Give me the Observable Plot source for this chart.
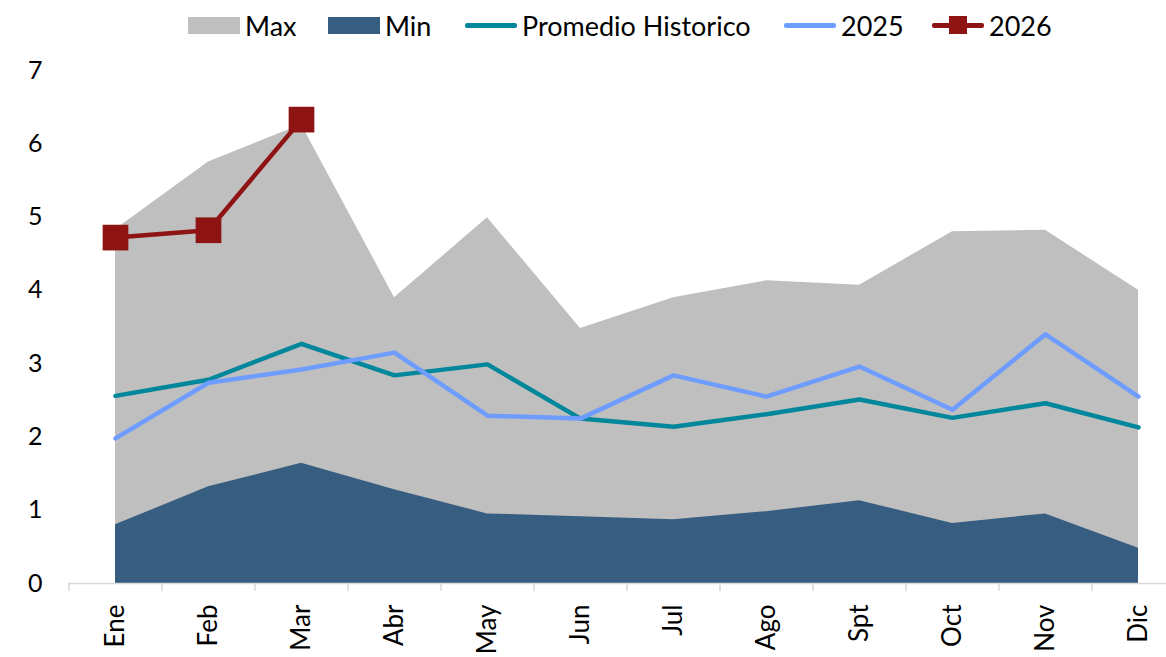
<!DOCTYPE html>
<html><head><meta charset="utf-8">
<script src="https://cdn.jsdelivr.net/npm/d3@7"></script>
<script src="https://cdn.jsdelivr.net/npm/@observablehq/plot@0.6"></script>
<style>
body{margin:0;background:#fff;font-family:Lato,"Open Sans",sans-serif;}
#legend{position:relative;height:50px;width:1166px;font-size:27px;color:#000;}
.it{position:absolute;top:0;height:50px;display:flex;align-items:center;}
.sw{width:52px;height:17px;margin-right:5px;flex:none;}
.ln{width:52px;height:5px;margin-right:5px;position:relative;border-radius:2px;flex:none;}
.sq{position:absolute;width:18px;height:18px;left:17px;top:-6.5px;}
svg{display:block;}
</style></head>
<body>
<div id="legend"></div>
<div id="chart"></div>
<script>
const months = ["Ene","Feb","Mar","Abr","May","Jun","Jul","Ago","Spt","Oct","Nov","Dic"];
const maxVals = [4.83,5.75,6.26,3.90,4.99,3.48,3.90,4.13,4.07,4.80,4.82,4.00];
const minVals = [0.80,1.32,1.64,1.28,0.95,0.91,0.87,0.98,1.13,0.82,0.95,0.48];
const promVals = [2.56,2.78,3.27,2.84,2.99,2.25,2.14,2.31,2.51,2.26,2.46,2.13];
const v2025 = [1.98,2.74,2.92,3.15,2.29,2.25,2.84,2.55,2.96,2.37,3.40,2.55];
const months2026 = ["Ene","Feb","Mar"];
const v2026 = [4.72,4.82,6.33];
const yTicks = [0,1,2,3,4,5,6,7];

const colors = {max:"#bfbfbf", min:"#375d81", prom:"#00879c", y2025:"#6e9dff", y2026:"#8e1414"};

const data = months.map((m,i)=>({m, max:maxVals[i], min:minVals[i], prom:promVals[i], v25:v2025[i]}));
const data26 = months2026.map((m,i)=>({m, v:v2026[i]}));

// legend
const legend = document.getElementById("legend");
const items = [
  {x:188, label:"Max", type:"sw", color:colors.max},
  {x:328, label:"Min", type:"sw", color:colors.min},
  {x:465, label:"Promedio Historico", type:"ln", color:colors.prom},
  {x:784, label:"2025", type:"ln", color:colors.y2025},
  {x:932, label:"2026", type:"sq", color:colors.y2026}
];
for (const it of items) {
  const d = document.createElement("div");
  d.className = "it"; d.style.left = it.x + "px";
  const s = document.createElement("div");
  s.className = it.type === "sw" ? "sw" : "ln";
  s.style.background = it.color;
  if (it.type === "sq") {
    const q = document.createElement("div");
    q.className = "sq"; q.style.background = it.color;
    s.appendChild(q);
  }
  d.appendChild(s);
  const t = document.createElement("span"); t.textContent = it.label;
  d.appendChild(t);
  legend.appendChild(d);
}

const chart = Plot.plot({
  width: 1166,
  height: 607,
  marginTop: 20,
  marginBottom: 74,
  marginLeft: 68,
  marginRight: 0,
  style: {fontFamily: "Lato, 'Open Sans', sans-serif", fontSize: "24px", color: "#000", background: "#fff"},
  x: {type: "point", domain: months, range: [68, 1184], padding: 0.5},
  y: {domain: [0, 7], ticks: yTicks},
  marks: [
    Plot.areaY(data, {x: "m", y: "max", fill: colors.max, curve: "linear"}),
    Plot.areaY(data, {x: "m", y: "min", fill: colors.min, curve: "linear"}),
    Plot.ruleY([0], {stroke: "#d9d9d9", strokeWidth: 1.5}),
    Plot.ruleX(months, {x: d => d, dx: -46.5, y1: 0, y2: -0.11, stroke: "#d9d9d9", strokeWidth: 1.5}),
    Plot.line(data, {x: "m", y: "prom", stroke: colors.prom, strokeWidth: 4.5}),
    Plot.line(data, {x: "m", y: "v25", stroke: colors.y2025, strokeWidth: 4.5}),
    Plot.line(data26, {x: "m", y: "v", stroke: colors.y2026, strokeWidth: 4.5}),
    Plot.dot(data26, {x: "m", y: "v", symbol: "square", r: 14.5, fill: colors.y2026, stroke: null}),
    Plot.axisY(yTicks, {tickSize: 0, tickPadding: 26, tickFormat: d3.format("d"), label: null, fontSize: 25}),
    Plot.axisX(months, {tickSize: 0, tickPadding: 21, tickRotate: -90, label: null, fontSize: 26})
  ]
});
document.getElementById("chart").appendChild(chart);
</script>
</body></html>
